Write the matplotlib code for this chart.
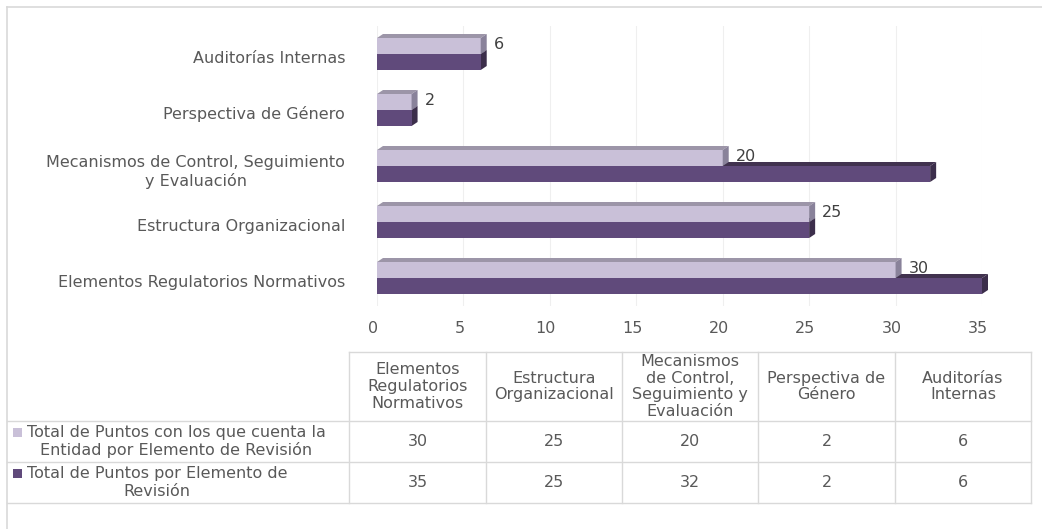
import matplotlib
matplotlib.use("Agg")
import matplotlib.pyplot as plt
from matplotlib.patches import Polygon, Rectangle
from matplotlib.transforms import ScaledTranslation
import numpy as np

# ---------------- data ----------------
categories = ["Elementos Regulatorios Normativos",
              "Estructura Organizacional",
              "Mecanismos de Control, Seguimiento y Evaluación",
              "Perspectiva de Género",
              "Auditorías Internas"]
axis_labels = ["Elementos Regulatorios Normativos",
               "Estructura Organizacional",
               "Mecanismos de Control, Seguimiento\ny Evaluación",
               "Perspectiva de Género",
               "Auditorías Internas"]
table_headers = ["Elementos\nRegulatorios\nNormativos",
                 "Estructura\nOrganizacional",
                 "Mecanismos\nde Control,\nSeguimiento y\nEvaluación",
                 "Perspectiva de\nGénero",
                 "Auditorías\nInternas"]
series_names = ["Total de Puntos con los que cuenta la\nEntidad por Elemento de Revisión",
                "Total de Puntos por Elemento de\nRevisión"]
cuenta = [30, 25, 20, 2, 6]
total = [35, 25, 32, 2, 6]
xticks = [0, 5, 10, 15, 20, 25, 30, 35]

# ---------------- style ----------------
W, H = 1042, 529
plt.rcParams['font.family'] = ['DejaVu Sans']
FS = 11.5
TXT = '#595959'
GRID = '#d9d9d9'
LIGHT, LIGHT_TOP, LIGHT_SIDE = '#c9c0d8', '#9c95a8', '#89829a'
DARK, DARK_TOP, DARK_SIDE = '#604a7b', '#41324f', '#3c2e4b'

fig = plt.figure(figsize=(W / 100, H / 100), dpi=100)


def px(x0, y0, x1, y1):
    return [x0 / W, 1 - y1 / H, (x1 - x0) / W, (y1 - y0) / H]


# ---------------- bar chart ----------------
AX_L, AX_T, AX_R, AX_B = 377, 26, 982, 306
ax = fig.add_axes(px(AX_L, AX_T, AX_R, AX_B))
ax.set_xlim(xticks[0], xticks[-1])
n = len(categories)
ax.set_ylim(-0.5, n - 0.5)

ux = (xticks[-1] - xticks[0]) / (AX_R - AX_L)   # data units per pixel (x)
uy = n / (AX_B - AX_T)                          # data units per pixel (y)
dx, dy = 6 * ux, 4 * uy
hl, hd = 16 * uy, 16 * uy

y = np.arange(n)
ax.barh(y, cuenta, height=hl, align='edge', color=LIGHT, zorder=3, linewidth=0)
ax.barh(y - hd, total, height=hd, align='edge', color=DARK, zorder=3, linewidth=0)

for yi, vl, vd in zip(y, cuenta, total):
    # dark bar top and side faces
    ax.add_patch(Polygon([(0, yi), (vd, yi), (vd + dx, yi + dy), (dx, yi + dy)],
                         closed=True, color=DARK_TOP, lw=0, zorder=2, clip_on=False))
    ax.add_patch(Polygon([(vd, yi - hd), (vd, yi), (vd + dx, yi + dy), (vd + dx, yi - hd + dy)],
                         closed=True, color=DARK_SIDE, lw=0, zorder=2.5, clip_on=False))
    # light bar top and side faces
    ax.add_patch(Polygon([(0, yi + hl), (vl, yi + hl), (vl + dx, yi + hl + dy), (dx, yi + hl + dy)],
                         closed=True, color=LIGHT_TOP, lw=0, zorder=4, clip_on=False))
    ax.add_patch(Polygon([(vl, yi), (vl, yi + hl), (vl + dx, yi + hl + dy), (vl + dx, yi + dy)],
                         closed=True, color=LIGHT_SIDE, lw=0, zorder=4, clip_on=False))
    ax.annotate(str(vl), xy=(vl + dx, yi + hl * 0.62), xytext=(5, 0),
                textcoords='offset points', ha='left', va='center',
                fontsize=FS, color='#404040', zorder=5, annotation_clip=False)

ax.set_xticks(xticks)
ax.set_xticklabels([str(t) for t in xticks])
ax.set_yticks(y)
ax.set_yticklabels(axis_labels)
ax.tick_params(axis='both', length=0, labelsize=FS, labelcolor=TXT)
ax.tick_params(axis='x', pad=11)
ax.tick_params(axis='y', pad=23)
for lab in ax.get_yticklabels():
    lab.set_multialignment('center')
    lab.set_transform(lab.get_transform() + ScaledTranslation(0, -3 / 100, fig.dpi_scale_trans))
for lab in ax.get_xticklabels():
    lab.set_transform(lab.get_transform() + ScaledTranslation(-4 / 100, 0, fig.dpi_scale_trans))
ax.grid(axis='x', color='#efefef', lw=0.8, zorder=0)
ax.set_axisbelow(True)
for s in ax.spines.values():
    s.set_visible(False)

# ---------------- frame + data table ----------------
at = fig.add_axes([0, 0, 1, 1], zorder=-1)
at.set_xlim(0, W)
at.set_ylim(H, 0)
at.axis('off')

at.plot([7, W], [7, 7], color=GRID, lw=1.2)
at.plot([7, 7], [7, H], color=GRID, lw=1.2)

col_edges = [349, 486, 622, 758, 895, 1031]
row_edges = [352, 421, 462, 503]
at.plot([col_edges[0], col_edges[-1]], [row_edges[0]] * 2, color=GRID, lw=1)
for ry in row_edges[1:]:
    at.plot([7, col_edges[-1]], [ry, ry], color=GRID, lw=1)
for cx in col_edges:
    at.plot([cx, cx], [row_edges[0], row_edges[-1]], color=GRID, lw=1)

hdr_y = (row_edges[0] + row_edges[1]) / 2
for j, htxt in enumerate(table_headers):
    cx = (col_edges[j] + col_edges[j + 1]) / 2
    at.text(cx, hdr_y, htxt, ha='center', va='center', multialignment='center',
            fontsize=FS, color=TXT, linespacing=1.15)

for r, (vals, name, col) in enumerate(zip([cuenta, total], series_names, [LIGHT, DARK])):
    ry = (row_edges[r + 1] + row_edges[r + 2]) / 2
    for j, v in enumerate(vals):
        cx = (col_edges[j] + col_edges[j + 1]) / 2
        at.text(cx, ry, str(v), ha='center', va='center', fontsize=FS, color=TXT)
    at.add_patch(Rectangle((13, ry - 9 - 4.5), 9, 9, color=col, lw=0))
    at.text(27, ry, name, ha='left', va='center', multialignment='center',
            fontsize=FS, color=TXT, linespacing=1.2)

fig.savefig('out.png', dpi=100)
